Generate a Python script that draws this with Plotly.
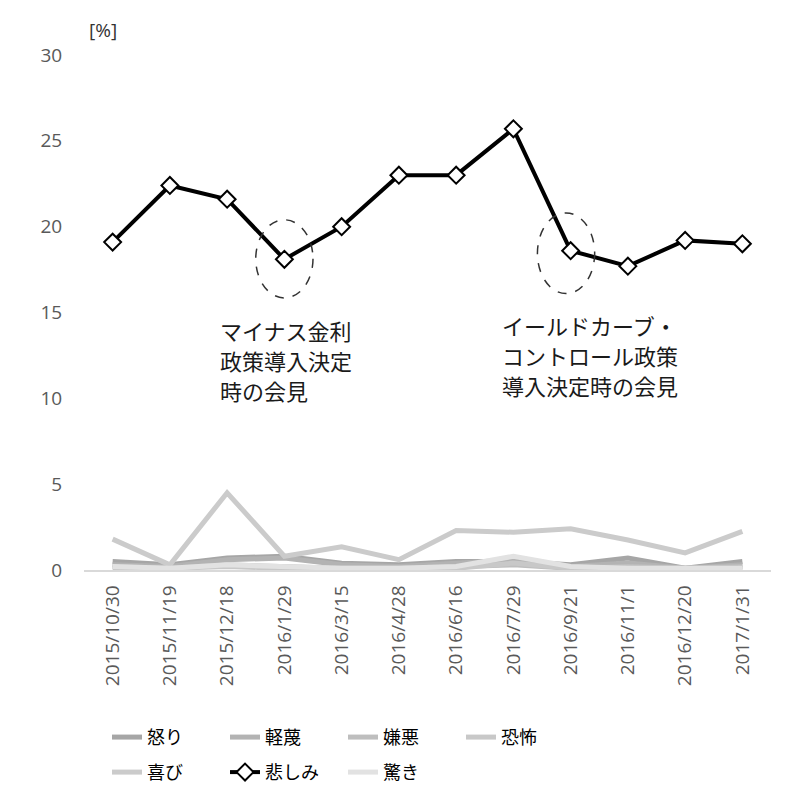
import plotly.graph_objects as go

dates = ["2015/10/30", "2015/11/19", "2015/12/18", "2016/1/29", "2016/3/15", "2016/4/28",
         "2016/6/16", "2016/7/29", "2016/9/21", "2016/11/1", "2016/12/20", "2017/1/31"]

anger    = [0.5, 0.3, 0.7, 0.8, 0.4, 0.3, 0.5, 0.5, 0.3, 0.7, 0.1, 0.5]
contempt = [0.3, 0.2, 0.6, 0.7, 0.3, 0.2, 0.4, 0.6, 0.2, 0.4, 0.1, 0.3]
disgust  = [0.2, 0.1, 0.3, 0.2, 0.1, 0.1, 0.2, 0.3, 0.1, 0.2, 0.1, 0.2]
fear     = [0.1, 0.1, 0.2, 0.1, 0.1, 0.1, 0.1, 0.4, 0.1, 0.1, 0.0, 0.1]
joy      = [1.8, 0.3, 4.5, 0.8, 1.35, 0.6, 2.3, 2.2, 2.4, 1.75, 1.0, 2.25]
sadness  = [19.1, 22.4, 21.6, 18.1, 20.0, 23.0, 23.0, 25.7, 18.6, 17.7, 19.2, 19.0]
surprise = [0.2, 0.1, 0.3, 0.2, 0.1, 0.1, 0.2, 0.8, 0.2, 0.1, 0.1, 0.1]

y_ticks = [0, 5, 10, 15, 20, 25, 30]

note1_lines = ["マイナス金利", "政策導入決定", "時の会見"]
note2_lines = ["イールドカーブ・", "コントロール政策", "導入決定時の会見"]

CJK = "Noto Sans CJK JP"
NUM = "Open Sans"

fig = go.Figure()

gray_series = [
    ("怒り", anger, "#a6a6a6", "legend"),
    ("軽蔑", contempt, "#b3b3b3", "legend"),
    ("嫌悪", disgust, "#bebebe", "legend"),
    ("恐怖", fear, "#c8c8c8", "legend"),
    ("喜び", joy, "#cbcbcb", "legend2"),
]
for name, vals, col, lg in gray_series:
    fig.add_trace(go.Scatter(x=dates, y=vals, name=name, mode="lines",
                             line=dict(color=col, width=5), legend=lg))

fig.add_trace(go.Scatter(x=dates, y=surprise, name="驚き", mode="lines",
                         line=dict(color="#e2e2e2", width=5), legend="legend2",
                         legendrank=3))
fig.add_trace(go.Scatter(x=dates, y=sadness, name="悲しみ", mode="lines+markers",
                         line=dict(color="#000000", width=4),
                         marker=dict(symbol="diamond", size=13, color="white",
                                     line=dict(color="#000000", width=2)),
                         legend="legend2", legendrank=2))
fig.data[4].legendrank = 1

# dashed ellipses
fig.add_shape(type="circle", xref="x", yref="y", x0=2.5, x1=3.5, y0=15.85, y1=20.4,
              line=dict(color="#333333", width=1.5, dash="dash"))
fig.add_shape(type="circle", xref="x", yref="y", x0=7.42, x1=8.42, y0=16.1, y1=20.8,
              line=dict(color="#333333", width=1.5, dash="dash"))

for i, line in enumerate(note1_lines):
    fig.add_annotation(x=1.84, y=14.0, xref="x", yref="y", xanchor="left", yanchor="middle",
                       yshift=-30 * i, text=line, showarrow=False,
                       font=dict(family=CJK, size=22, color="#1a1a1a"))
for i, line in enumerate(note2_lines):
    fig.add_annotation(x=6.77, y=14.3, xref="x", yref="y", xanchor="left", yanchor="middle",
                       yshift=-30 * i, text=line, showarrow=False,
                       font=dict(family=CJK, size=22, color="#1a1a1a"))
fig.add_annotation(x=0.0, xref="paper", y=1.049, yref="paper", xanchor="left",
                   yanchor="middle", xshift=3, text="[%]", showarrow=False,
                   font=dict(family=NUM, size=19, color="#333333"))

legend_common = dict(orientation="h", xanchor="left", yanchor="middle",
                     entrywidth=73, entrywidthmode="pixels", itemwidth=30,
                     font=dict(family=CJK, size=18, color="#000000"),
                     bgcolor="rgba(0,0,0,0)", tracegroupgap=0)

# page body has an 8px default margin; compensate so the plot sits where intended
fig.update_layout(
    width=792, height=798,
    paper_bgcolor="white", plot_bgcolor="white",
    margin=dict(l=76, r=29, t=47, b=236, autoexpand=False),
    showlegend=True,
    legend=dict(x=0.0335, y=-0.325, **legend_common),
    legend2=dict(x=0.0335, y=-0.393, traceorder="normal", **legend_common),
    xaxis=dict(type="category", range=[-0.5, 11.5], showgrid=False, showline=True,
               linecolor="#d9d9d9", linewidth=1.5, ticks="outside", ticklen=6,
               tickcolor="rgba(0,0,0,0)", tickangle=-90,
               tickfont=dict(family=NUM, size=19, color="#595959"),
               zeroline=False, automargin=False),
    yaxis=dict(range=[0, 30], tickvals=y_ticks, showgrid=False, showline=False,
               zeroline=False, ticks="outside", ticklen=17, tickcolor="rgba(0,0,0,0)",
               tickfont=dict(family=NUM, size=19, color="#595959"), automargin=False),
)

fig.write_html("out.html")
